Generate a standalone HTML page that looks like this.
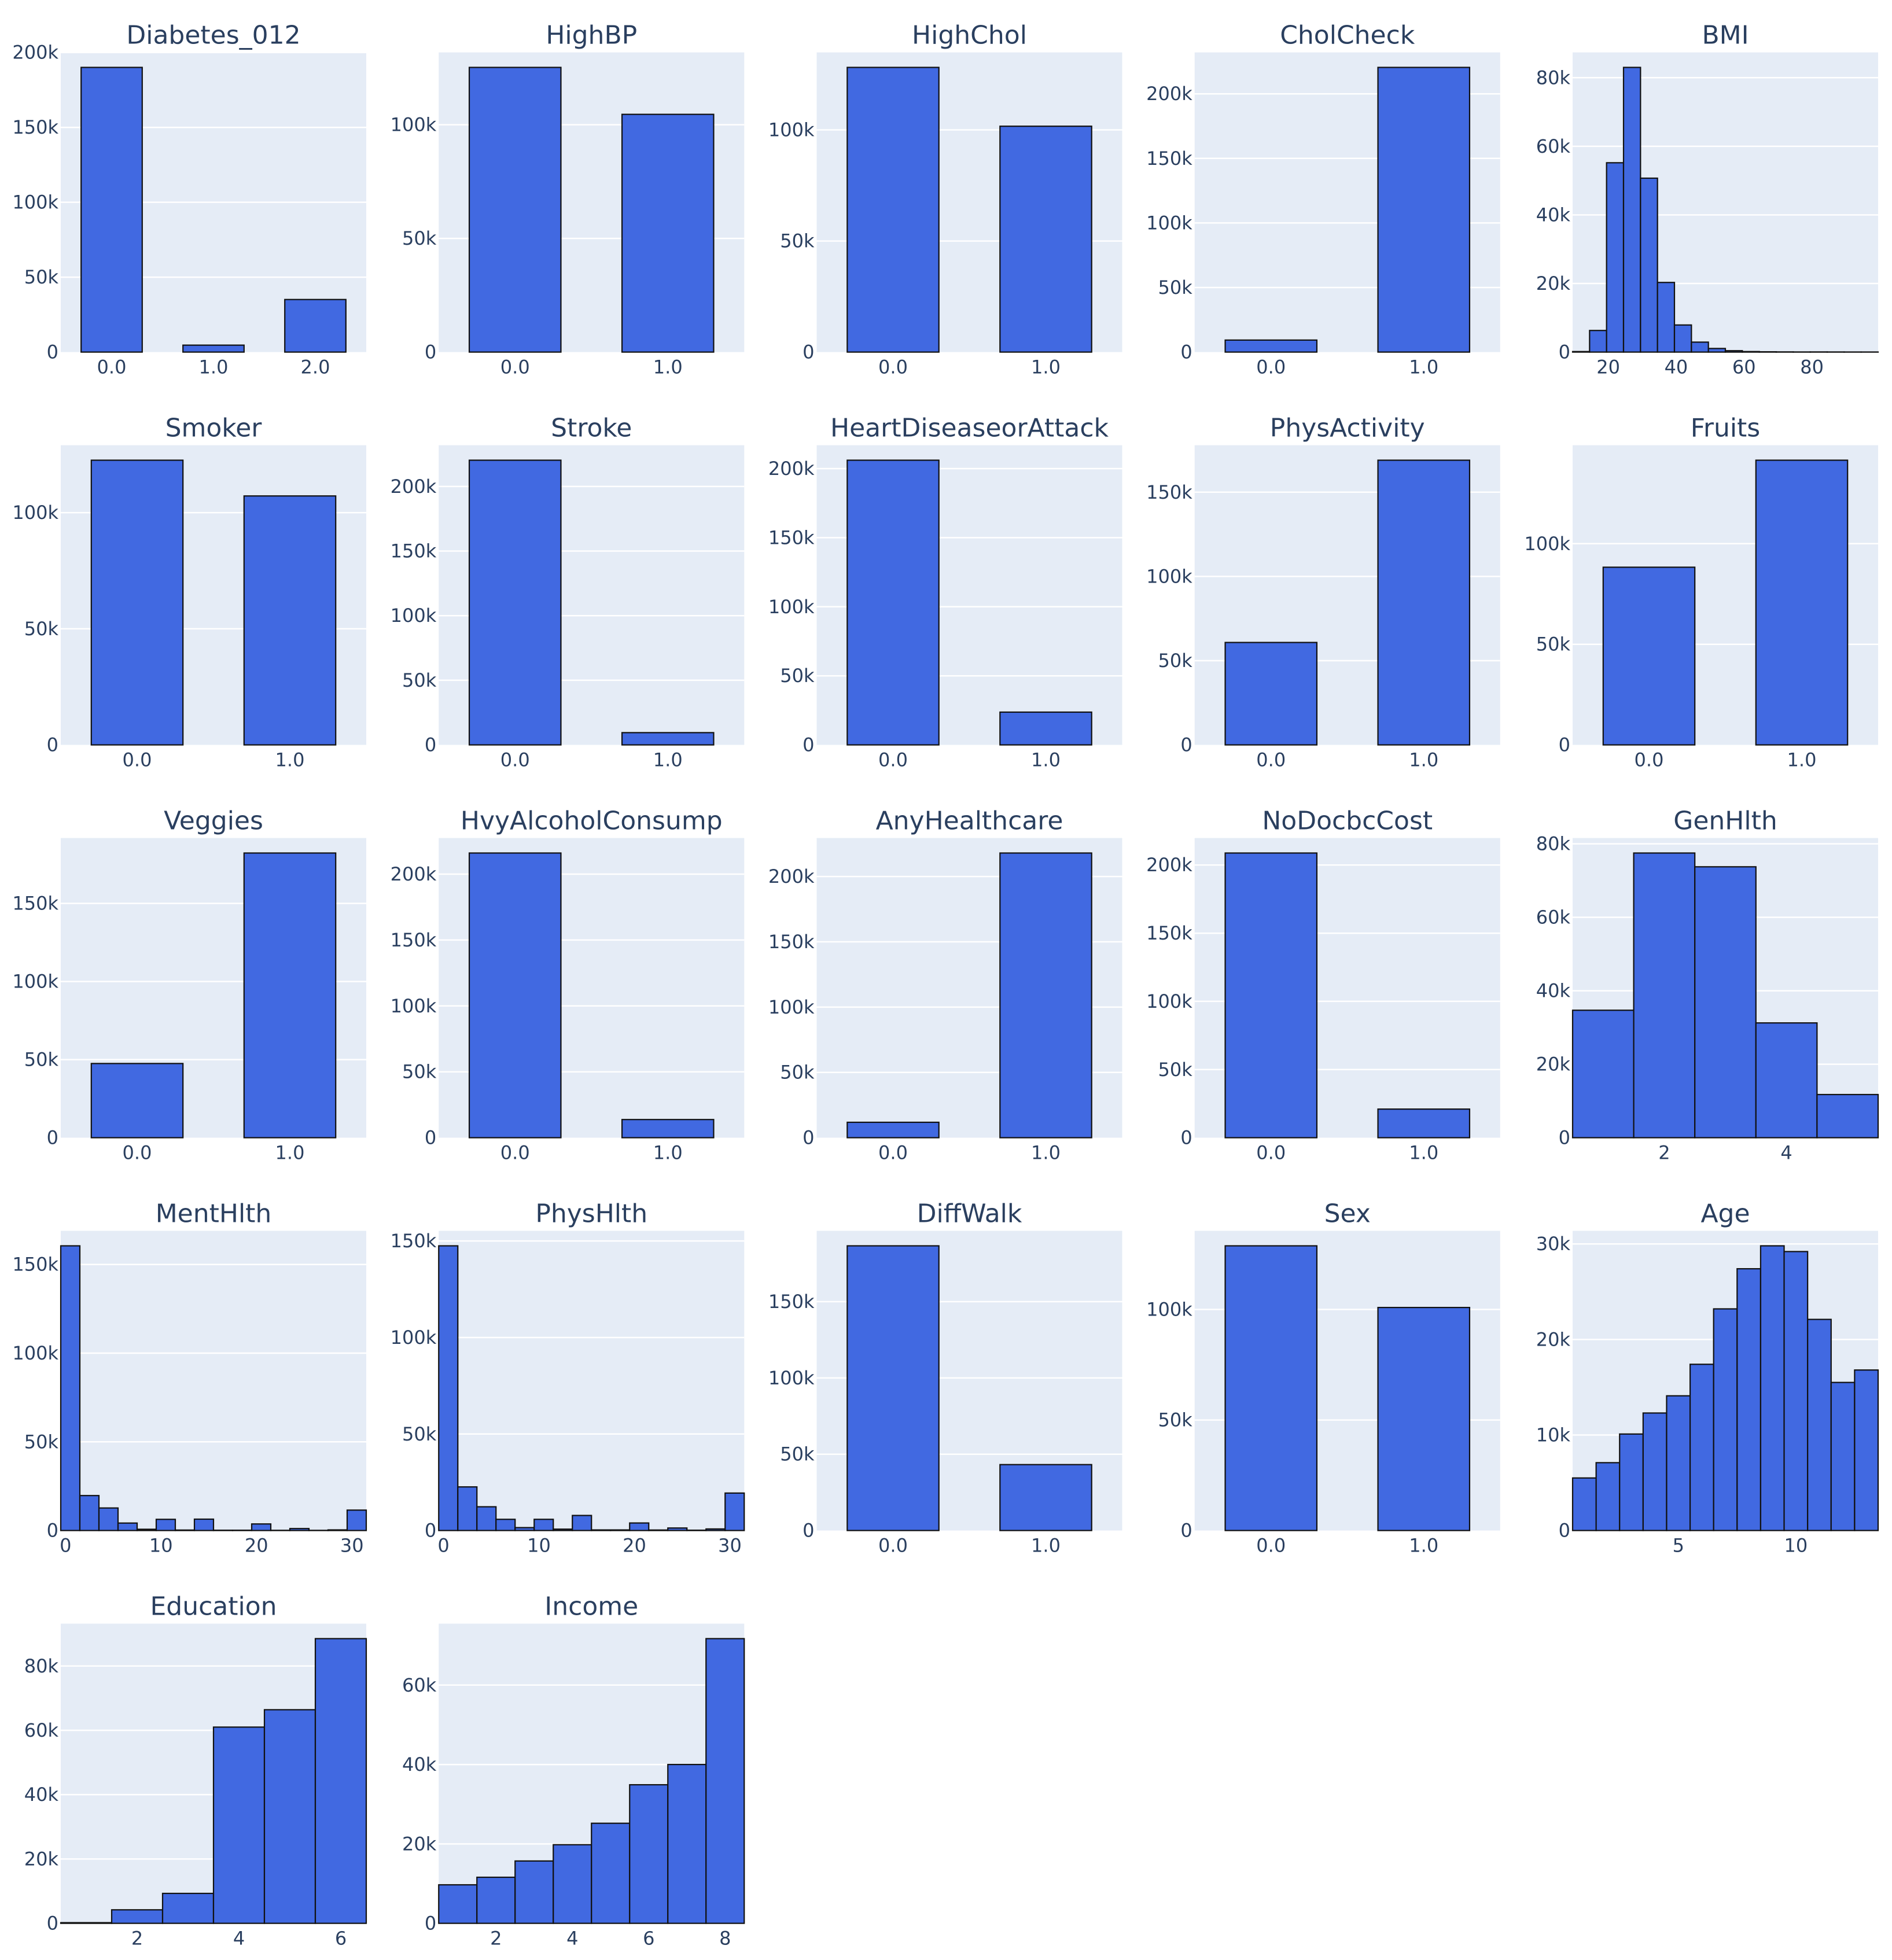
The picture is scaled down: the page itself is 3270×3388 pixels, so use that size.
<!DOCTYPE html>
<html><head><meta charset="utf-8">
<style>
html,body{margin:0;padding:0;background:#fff;}
svg{display:block;}
text{font-family:"DejaVu Sans","Liberation Sans",sans-serif;fill:#2a3f5f;}
</style></head>
<body>
<svg id="chart" width="3270" height="3388" viewBox="0 0 3270 3388" xmlns="http://www.w3.org/2000/svg"></svg>
<script>
// ---- data ----
const titles = ["Diabetes_012","HighBP","HighChol","CholCheck","BMI","Smoker","Stroke","HeartDiseaseorAttack","PhysActivity","Fruits","Veggies","HvyAlcoholConsump","AnyHealthcare","NoDocbcCost","GenHlth","MentHlth","PhysHlth","DiffWalk","Sex","Age","Education","Income"];
const kinds = ["cat","cat","cat","cat","hist","cat","cat","cat","cat","cat","cat","cat","cat","cat","hist","hist","hist","cat","cat","hist","hist","hist"];
const diabetesCounts = [190055, 4629, 35097];
const highBPCounts = [125214, 104567];
const highCholCounts = [128129, 101652];
const cholCheckCounts = [9298, 220483];
const bmiCounts = [150, 6300, 55200, 83000, 50700, 20300, 7900, 2900, 1050, 400, 150, 80, 50, 30, 40, 30, 20, 20];
const smokerCounts = [122585, 107196];
const strokeCounts = [220300, 9481];
const heartCounts = [206064, 23717];
const physActCounts = [60800, 168981];
const fruitsCounts = [88300, 141481];
const veggiesCounts = [47500, 182281];
const hvyAlcCounts = [216000, 13781];
const anyHealthCounts = [11800, 217981];
const noDocCounts = [208800, 20981];
const genHlthCounts = [34700, 77500, 73750, 31250, 11750];
const mentHlthCounts = [160500, 19700, 12700, 4200, 700, 6300, 250, 6400, 150, 150, 3700, 100, 1100, 80, 350, 11500];
const physHlthCounts = [147500, 22600, 12300, 5800, 1500, 5800, 700, 7800, 300, 300, 3900, 250, 1300, 150, 800, 19400];
const diffWalkCounts = [186600, 43200];
const sexCounts = [128800, 100900];
const ageCounts = [5500, 7100, 10100, 12300, 14100, 17400, 23200, 27400, 29800, 29200, 22100, 15500, 16800];
const educationCounts = [200, 4200, 9300, 61000, 66400, 88500];
const incomeCounts = [9700, 11600, 15700, 19800, 25200, 34900, 40000, 71700];
const seriesList = [diabetesCounts,highBPCounts,highCholCounts,cholCheckCounts,bmiCounts,smokerCounts,strokeCounts,heartCounts,physActCounts,fruitsCounts,veggiesCounts,hvyAlcCounts,anyHealthCounts,noDocCounts,genHlthCounts,mentHlthCounts,physHlthCounts,diffWalkCounts,sexCounts,ageCounts,educationCounts,incomeCounts];
const binStarts = {4:9.5, 14:0.5, 15:-0.5, 16:-0.5, 19:0.5, 20:0.5, 21:0.5};
const binSizes  = {4:5, 14:1, 15:2, 16:2, 19:1, 20:1, 21:1};
const catLabels2 = ["0.0","1.0"];
const catLabels3 = ["0.0","1.0","2.0"];
const histXTicks = {4:[20,40,60,80], 14:[2,4], 15:[0,10,20,30], 16:[0,10,20,30], 19:[5,10], 20:[2,4,6], 21:[2,4,6,8]};
const yTickSteps = [50000,50000,50000,50000,20000,50000,50000,50000,50000,50000,50000,50000,50000,50000,20000,50000,50000,50000,50000,10000,20000,20000];

// ---- layout ----
const NS = "http://www.w3.org/2000/svg";
const svg = document.getElementById("chart");
const PW = 528, PH = 518, COL0 = 105, COLSTEP = 653.25, ROW0 = 90.6, ROWSTEP = 679;
const TICKFS = 32, TITLEFS = 44;
function mk(tag, attrs, parent){ const e=document.createElementNS(NS,tag); for(const k in attrs) e.setAttribute(k,attrs[k]); (parent||svg).appendChild(e); return e; }
function fmtK(v){ return v===0 ? "0" : (v/1000)+"k"; }

seriesList.forEach((vals, i) => {
  const col = i % 5, row = Math.floor(i / 5);
  const L = COL0 + col*COLSTEP, T = ROW0 + row*ROWSTEP, B = T + PH;
  const g = mk("g", {});
  
  
  const bg = mk("rect", {x:L, y:T, width:PW, height:PH, fill:"#e5ecf6"}, g);
  
  
  const ymax = Math.max(...vals) / 0.95;
  const yS = v => B - v / ymax * PH;
  let xmin, xmax;
  if (kinds[i] === "cat") { xmin = -0.5; xmax = vals.length - 0.5; }
  else { xmin = binStarts[i]; xmax = binStarts[i] + binSizes[i]*vals.length; }
  const xS = x => L + (x - xmin) / (xmax - xmin) * PW;
  const step = yTickSteps[i];
  for (let v = 0; v <= ymax; v += step) {
    const y = yS(v);
    if (v > 0) {
      const gl = mk("line", {x1:L, x2:L+PW, y1:y, y2:y, stroke:"#fff", "stroke-width":2.5}, g);
      
      
    }
    const t = mk("text", {x:L-4, y:y+11, "text-anchor":"end", "font-size":TICKFS}, g);
    t.textContent = fmtK(v);
    
    
  }
  vals.forEach((v, j) => {
    let x0, x1;
    if (kinds[i] === "cat") { x0 = xS(j - 0.3); x1 = xS(j + 0.3); }
    else { x0 = xS(binStarts[i] + j*binSizes[i]); x1 = xS(binStarts[i] + (j+1)*binSizes[i]); }
    const r = mk("rect", {x:x0, y:yS(v), width:x1-x0, height:B-yS(v), fill:"#4169e1", stroke:"#111", "stroke-width":2.2}, g);
    
    
  });
  if (kinds[i] === "cat") {
    const labs = vals.length === 3 ? catLabels3 : catLabels2;
    labs.forEach((lab, j) => {
      const t = mk("text", {x:xS(j), y:B+37, "text-anchor":"middle", "font-size":TICKFS}, g);
      t.textContent = lab;
      
      
    });
  } else {
    histXTicks[i].forEach(v => {
      const t = mk("text", {x:xS(v), y:B+37, "text-anchor":"middle", "font-size":TICKFS}, g);
      t.textContent = String(v);
      
      
    });
  }
  const tt = mk("text", {x:L+PW/2, y:T-15, "text-anchor":"middle", "font-size":TITLEFS}, g);
  tt.textContent = titles[i];
  
  
});
</script>
</body></html>
